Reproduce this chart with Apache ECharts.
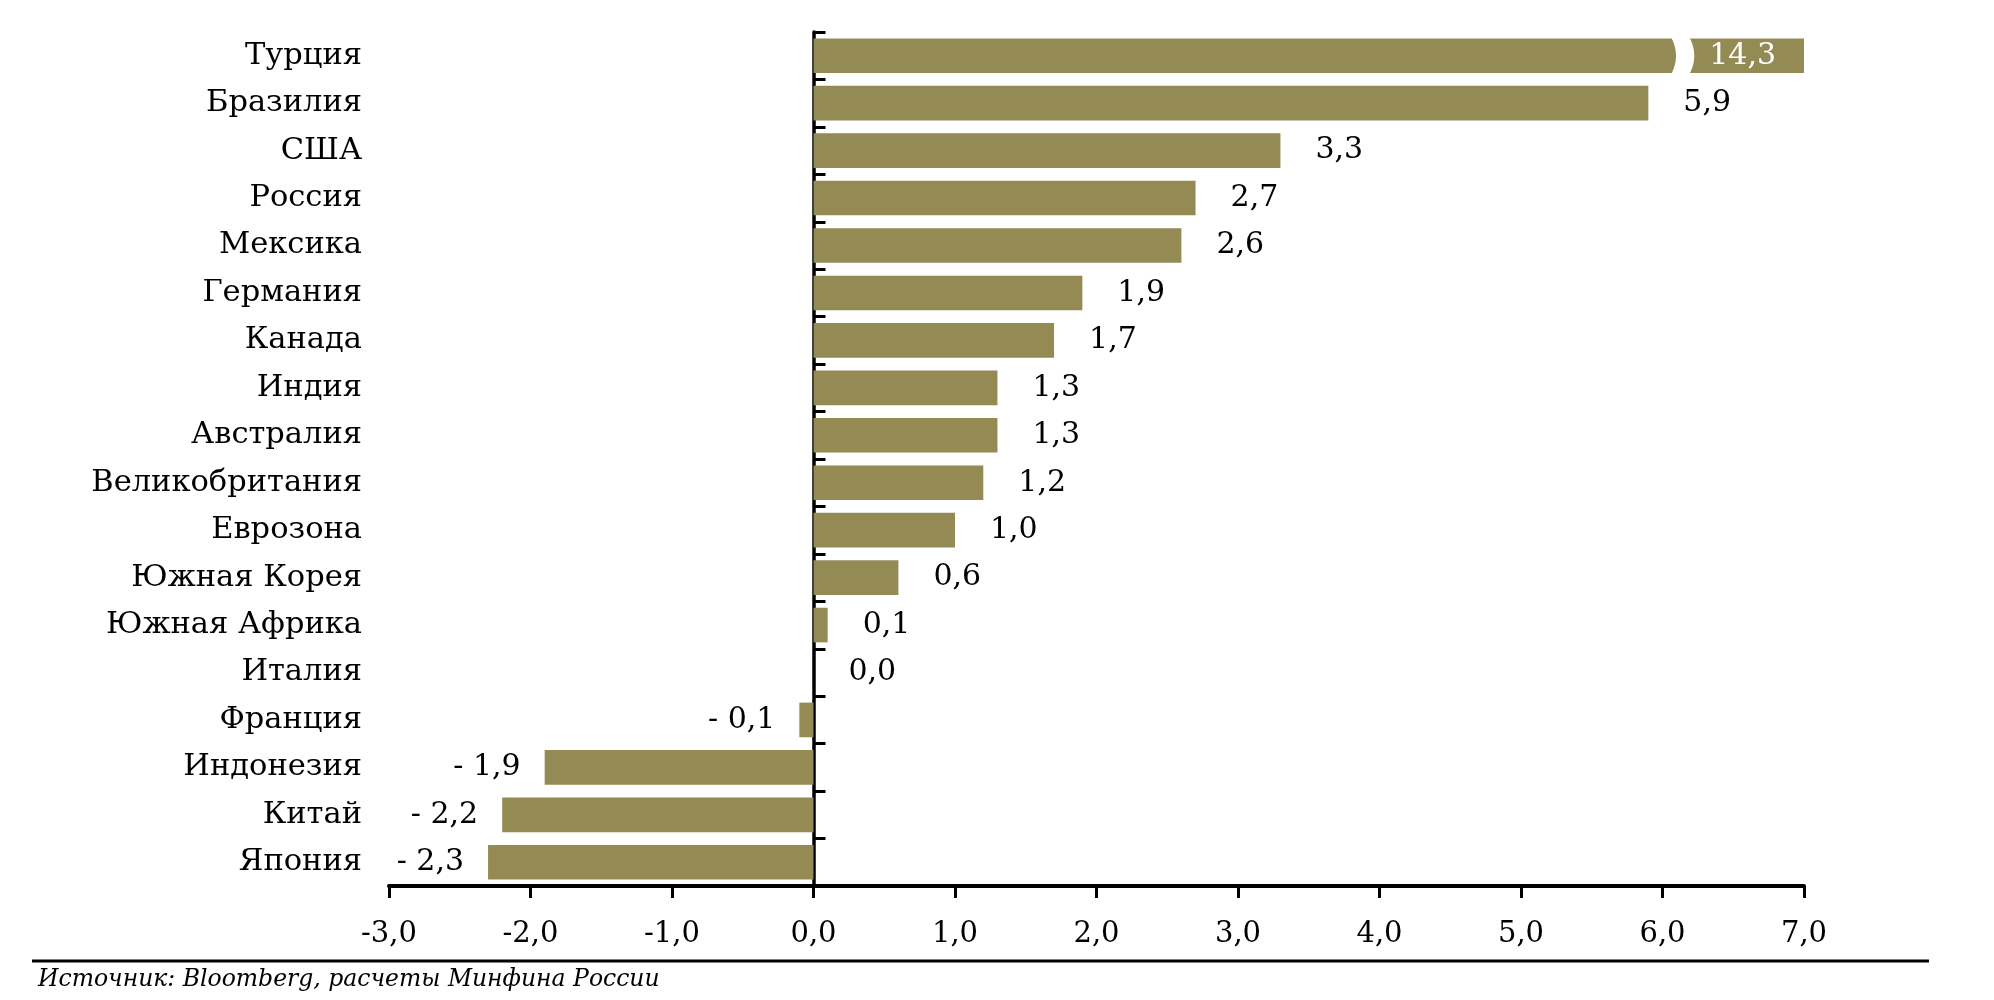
<!DOCTYPE html>
<html>
<head>
<meta charset="utf-8">
<script src="https://cdn.jsdelivr.net/npm/echarts@6/dist/echarts.min.js"></script>
<style>
html,body{margin:0;padding:0;background:#fff;}
#chart{width:1994px;height:1000px;}
</style>
</head>
<body>
<div id="chart"></div>
<script>
const categories = ['Турция','Бразилия','США','Россия','Мексика','Германия','Канада','Индия','Австралия','Великобритания','Еврозона','Южная Корея','Южная Африка','Италия','Франция','Индонезия','Китай','Япония'];
const values = [14.3, 5.9, 3.3, 2.7, 2.6, 1.9, 1.7, 1.3, 1.3, 1.2, 1.0, 0.6, 0.1, 0.0, -0.1, -1.9, -2.2, -2.3];
const xMin = -3, xMax = 7, xStep = 1;
const sourceNote = 'Источник: Bloomberg, расчеты Минфина России';

const FONT = 'DejaVu Serif';
const BAR = '#948A54';
const fmt = v => (v < 0 ? '-' : '') + Math.abs(v).toFixed(1).replace('.', ',');
const fmtLabel = v => (v < 0 ? '- ' : '') + Math.abs(v).toFixed(1).replace('.', ',');

const barData = values.map((v, i) => {
  const clipped = v > xMax;
  const item = { value: clipped ? xMax : v };
  if (clipped) {
    item.label = { position: 'insideRight', distance: 28, color: '#fff' };
  } else if (v < 0) {
    item.label = { position: 'left', distance: 24 };
  }
  return item;
});

// break marks for values beyond the axis maximum
const breakValue = 6.14;
const breakData = values.map((v, i) => v > xMax ? [breakValue, i] : null).filter(Boolean);

const chart = echarts.init(document.getElementById('chart'));
chart.setOption({
  animation: false,
  backgroundColor: '#fff',
  grid: { left: 389, right: 190, top: 32, bottom: 114, containLabel: false, outerBoundsMode: 'none' },
  xAxis: {
    type: 'value', min: xMin, max: xMax, interval: xStep,
    splitLine: { show: false },
    axisLine: { show: true, onZero: false, lineStyle: { color: '#000', width: 4 } },
    axisTick: { show: true, length: 12, lineStyle: { color: '#000', width: 3 } },
    axisLabel: { margin: 34, fontSize: 29, fontFamily: FONT, color: '#000', formatter: v => fmt(v) }
  },
  yAxis: {
    type: 'category', data: categories, inverse: true,
    axisLine: { show: true, onZero: true, lineStyle: { color: '#000', width: 3.5 } },
    axisTick: { show: true, inside: true, length: 12, lineStyle: { color: '#000', width: 3 } },
    axisLabel: { margin: 27, fontSize: 30.5, fontFamily: FONT, color: '#000' }
  },
  series: [
    {
      type: 'bar', data: barData, barCategoryGap: '27%', z: 1,
      itemStyle: { color: BAR },
      label: {
        show: true, position: 'right', distance: 35,
        fontSize: 30, fontFamily: FONT, color: '#000',
        formatter: p => fmtLabel(values[p.dataIndex])
      }
    },
    {
      type: 'scatter', data: breakData, z: 5, silent: true,
      symbol: 'path://M0,0 L16,0 Q26,18 16,36 L0,36 Q10,18 0,0 Z',
      symbolSize: [24, 40], symbolKeepAspect: false,
      itemStyle: { color: '#fff', opacity: 1 }
    }
  ],
  graphic: [
    { type: 'line', shape: { x1: 32, y1: 961, x2: 1929, y2: 961 }, style: { stroke: '#000', lineWidth: 3 } },
    { type: 'text', left: 38, top: 968, style: { text: sourceNote, font: 'italic 23.5px "DejaVu Serif"', fill: '#000' } }
  ]
});
</script>
</body>
</html>
